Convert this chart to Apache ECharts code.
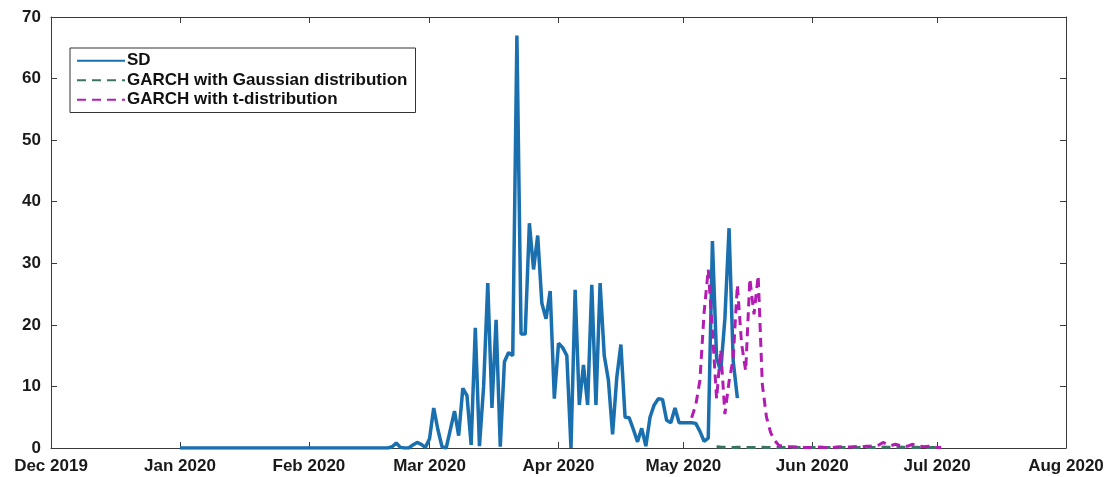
<!DOCTYPE html>
<html>
<head>
<meta charset="utf-8">
<script src="https://cdn.jsdelivr.net/npm/echarts@6/dist/echarts.min.js"></script>
<style>
  html, body { margin: 0; padding: 0; background: #fff; }
  #chart { width: 1110px; height: 477px; }
</style>
</head>
<body>
<div id="chart"></div>
<script>
// Month tick positions and their labels
const monthStarts = ['2019-12-01', '2020-01-01', '2020-02-01', '2020-03-01', '2020-04-01',
                     '2020-05-01', '2020-06-01', '2020-07-01', '2020-08-01'];
const monthLabels = ['Dec 2019', 'Jan 2020', 'Feb 2020', 'Mar 2020', 'Apr 2020',
                     'May 2020', 'Jun 2020', 'Jul 2020', 'Aug 2020'];
const yTicks = [0, 10, 20, 30, 40, 50, 60, 70];

// Daily standard deviation, from 1 Jan 2020
const sdStart = '2020-01-01';
const sdValues = [
  // Jan
  0, 0, 0, 0, 0, 0, 0, 0, 0, 0, 0, 0, 0, 0, 0, 0, 0, 0, 0, 0, 0, 0, 0, 0, 0, 0, 0, 0, 0, 0, 0,
  // Feb
  0, 0, 0, 0, 0, 0, 0, 0, 0, 0, 0, 0, 0, 0, 0, 0, 0, 0, 0, 0,
  0.2, 0.8, 0.1, 0, 0, 0.5, 0.9, 0.6, 0.1,
  // Mar
  1.5, 6.5, 3, 0.2, 0, 3, 6, 2, 9.7, 8.5, 0.5, 19.5, 0.3, 10, 26.8, 6.5, 20.8, 0.2, 14, 15.5,
  15, 67, 18.5, 18.5, 36.5, 29, 34.5, 23.5, 21, 25.5, 8,
  // Apr
  17, 16.3, 15, 0, 25.7, 7, 13.5, 7, 26.5, 7, 26.8, 15, 11, 2.2, 11.4, 16.8, 5, 4.9, 3, 1,
  3.2, 0.3, 5, 7, 8, 7.9, 4.5, 4.1, 6.5, 4.1,
  // May
  4.1, 4.1, 4.1, 4, 2.7, 1.1, 1.6, 33.6, 14.6, 12.5, 21, 35.7, 14.1, 8.1
];

// GARCH forecast, Gaussian innovations, from 9 May 2020
const gaussStart = '2020-05-09';
const gaussValues = [
  0.2, 0.15, 0.12, 0.1, 0.1, 0.12, 0.1, 0.1, 0.08, 0.1, 0.1, 0.12, 0.1, 0.1, 0.1, 0.08, 0.1,
  0.1, 0.1, 0.12, 0.1, 0.1, 0.1,
  0.1, 0.1, 0.1, 0.08, 0.1, 0.1, 0.12, 0.1, 0.1, 0.1, 0.1, 0.1, 0.12, 0.1, 0.1, 0.1, 0.12,
  0.15, 0.12, 0.1, 0.12, 0.15, 0.12, 0.1, 0.1, 0.12, 0.1, 0.1, 0.1, 0.1,
  0.1, 0.1
];

// GARCH forecast, Student-t innovations, from 3 May 2020
const tStart = '2020-05-03';
const tValues = [
  4.9, 7, 11, 22, 29, 19, 8, 16, 5.5, 10.8, 14.6, 26.5, 17, 12.5, 27.5, 21.7, 28, 10.3, 5,
  2.5, 1.2, 0.4, 0.3, 0.2, 0.2, 0.15, 0.1, 0.1, 0.1,
  0.1, 0.1, 0.15, 0.1, 0.1, 0.1, 0.15, 0.2, 0.2, 0.15, 0.2, 0.25, 0.2, 0.3, 0.3, 0.35, 0.5,
  0.9, 0.6, 0.4, 0.6, 0.4, 0.3, 0.3, 0.6, 0.4, 0.3, 0.2, 0.3, 0.2,
  0.1, 0.1
];

const DAY = 86400000;
function ts(s) {
  const p = s.split('-').map(Number);
  return Date.UTC(p[0], p[1] - 1, p[2]);
}
function daily(start, values) {
  const t0 = ts(start);
  return values.map((v, i) => [t0 + i * DAY, v]);
}

const monthTimes = monthStarts.map(ts);
const axisColor = '#3a3a3a';
const fontFamily = '"Liberation Sans", Arial, sans-serif';

function xLabel(v) {
  const i = monthTimes.indexOf(v);
  return i >= 0 ? monthLabels[i] : '';
}

const chart = echarts.init(document.getElementById('chart'), null, { renderer: 'canvas' });

const xCommon = {
  type: 'value',
  min: monthTimes[0],
  max: monthTimes[monthTimes.length - 1],
  splitLine: { show: false },
  axisLine: { show: true, onZero: false, lineStyle: { color: axisColor, width: 1 } },
  axisTick: { show: true, inside: true, length: 6, customValues: monthTimes,
              lineStyle: { color: axisColor } }
};
const yCommon = {
  type: 'value',
  min: yTicks[0],
  max: yTicks[yTicks.length - 1],
  interval: 10,
  splitLine: { show: false },
  axisLine: { show: true, lineStyle: { color: axisColor, width: 1 } },
  axisTick: { show: true, inside: true, length: 6, lineStyle: { color: axisColor } }
};

chart.setOption({
  animation: false,
  backgroundColor: '#ffffff',
  grid: { left: 51, right: 44, top: 17, bottom: 29, containLabel: false },
  xAxis: [
    Object.assign({}, xCommon, {
      position: 'bottom',
      axisLabel: {
        show: true, customValues: monthTimes, formatter: xLabel, margin: 10,
        color: '#1a1a1a', fontWeight: 'bold', fontSize: 17, fontFamily: fontFamily
      }
    }),
    Object.assign({}, xCommon, { position: 'top', axisLabel: { show: false } })
  ],
  yAxis: [
    Object.assign({}, yCommon, {
      position: 'left',
      axisLabel: {
        show: true, margin: 10, color: '#1a1a1a', fontWeight: 'bold', fontSize: 17,
        fontFamily: fontFamily
      }
    }),
    Object.assign({}, yCommon, { position: 'right', axisLabel: { show: false } })
  ],
  legend: {
    show: true,
    orient: 'vertical',
    left: 70,
    top: 48,
    itemWidth: 48,
    itemHeight: 14,
    itemGap: 2,
    padding: [4, 8, 4, 6],
    borderColor: '#333333',
    borderWidth: 1,
    backgroundColor: '#ffffff',
    selectedMode: false,
    itemStyle: { opacity: 0, borderWidth: 0 },
    textStyle: {
      color: '#111111', fontWeight: 'bold', fontSize: 17, lineHeight: 17.5,
      fontFamily: fontFamily, padding: [0, 0, 0, -3]
    },
    data: ['SD', 'GARCH with Gaussian distribution', 'GARCH with t-distribution']
  },
  series: [
    {
      name: 'SD',
      type: 'line',
      xAxisIndex: 0, yAxisIndex: 0,
      data: daily(sdStart, sdValues),
      symbol: 'none',
      lineStyle: { color: '#1a6fae', width: 3.5 },
      itemStyle: { color: '#1a6fae' },
      z: 3
    },
    {
      name: 'GARCH with Gaussian distribution',
      type: 'line',
      xAxisIndex: 0, yAxisIndex: 0,
      data: daily(gaussStart, gaussValues),
      symbol: 'none',
      lineStyle: { color: '#3b7562', width: 3, type: [9, 6] },
      itemStyle: { color: '#3b7562' },
      z: 4
    },
    {
      name: 'GARCH with t-distribution',
      type: 'line',
      xAxisIndex: 0, yAxisIndex: 0,
      data: daily(tStart, tValues),
      symbol: 'none',
      lineStyle: { color: '#b21cb2', width: 3, type: [9, 6] },
      itemStyle: { color: '#b21cb2' },
      z: 5
    }
  ]
});
</script>
</body>
</html>
